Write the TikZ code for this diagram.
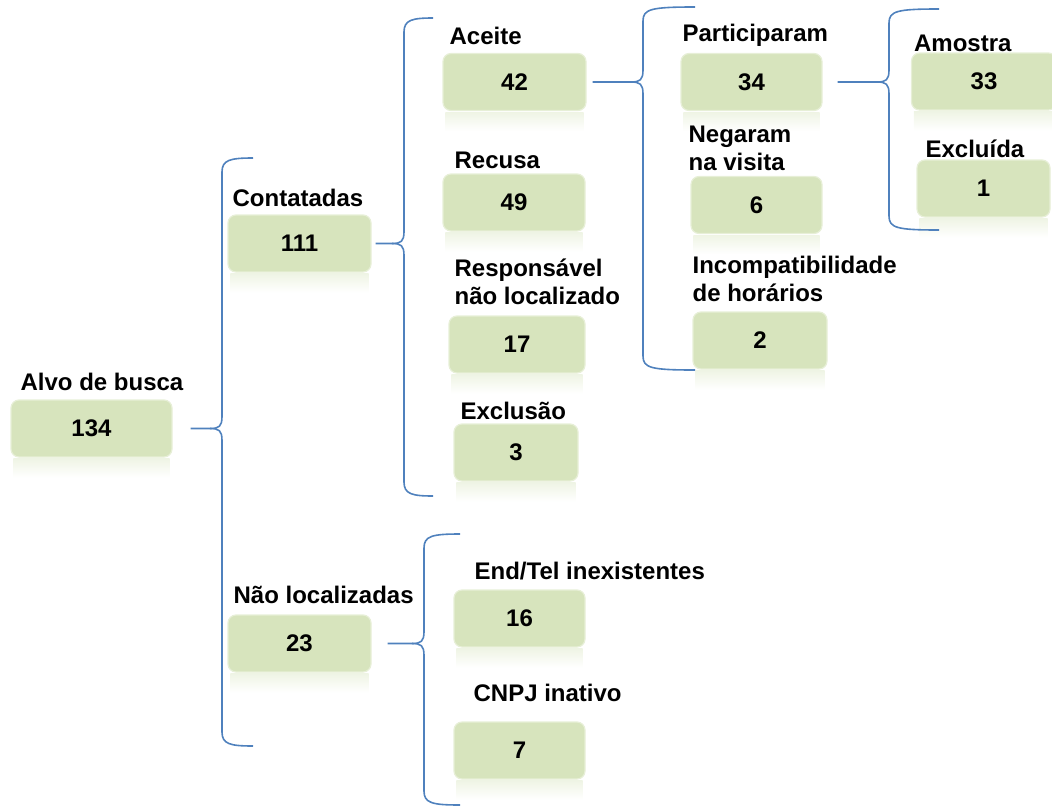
\documentclass[tikz,border=0pt]{standalone}
\usepackage{fontspec}
\setmainfont{Liberation Sans}
\usetikzlibrary{positioning,calc}
\definecolor{boxgreen}{RGB}{215,228,189}
\definecolor{braceblue}{RGB}{79,129,189}
\pgfdeclarelayer{edgelayer}
\pgfdeclarelayer{nodelayer}
\pgfsetlayers{edgelayer,nodelayer,main}
\tikzstyle{stage}=[rectangle, rounded corners=8pt, fill=boxgreen, draw=boxgreen!60!white, line width=1.2pt, minimum height=57pt, minimum width=143pt, font=\fontsize{24}{28}\selectfont\bfseries]
\tikzstyle{stagename}=[inner sep=0pt, align=left, font=\fontsize{24}{28}\selectfont\bfseries]
\tikzstyle{bracket}=[draw=braceblue, line width=1.6pt]
\tikzstyle{glow}=[top color=boxgreen!40, bottom color=white]
% #1 parent, #2 gap, #3 top end, #4 bottom end, #5 tail length
\newcommand{\curlyto}[5]{%
  \coordinate (tip) at ($(#1.east -| #3)+(-#5,0)$);
  \draw [style=bracket] ($(#1.east)+(#2,0)$) -- ($(tip)+(-12,0)$)
    .. controls ($(tip)+(-3,0)$) and ($(tip)+(0,-2)$) .. ($(tip)+(0,-12)$)
    -- ($(#3)+(-#5,14)$) .. controls ($(#3)+(-#5,2)$) and ($(#3)+({-#5+8},0)$) .. (#3);
  \draw [style=bracket] ($(tip)+(-12,0)$)
    .. controls ($(tip)+(-3,0)$) and ($(tip)+(0,2)$) .. ($(tip)+(0,12)$)
    -- ($(#4)+(-#5,-14)$) .. controls ($(#4)+(-#5,-2)$) and ($(#4)+({-#5+8},0)$) .. (#4);
}

\begin{document}
\begin{tikzpicture}[x=1pt, y=-1pt]
  \useasboundingbox (0,0) rectangle (1052,806);
  \begin{pgfonlayer}{nodelayer}
    \node [style=stage, minimum width=161pt] (alvo) at (91.5, 428.5) {134};
    \node [style=stage] (contat) at (299.5, 243.5) {111};
    \node [style=stage] (naoloc) at (299.5, 643.5) {23};
    \node [style=stage] (aceite) at (514.5, 82) {42};
    \node [style=stage, minimum width=142pt] (recusa) at (514, 202.5) {49};
    \node [style=stage, minimum width=136pt] (resp) at (517, 344.5) {17};
    \node [style=stage, minimum width=124pt] (exclusao) at (516, 452.5) {3};
    \node [style=stage, minimum width=141pt] (partic) at (751.5, 82) {34};
    \node [style=stage, minimum width=131pt] (negaram) at (756.5, 205) {6};
    \node [style=stage, minimum width=134pt] (incomp) at (760, 340.5) {2};
    \node [style=stage, minimum width=145pt] (amostra) at (984, 81.5) {33};
    \node [style=stage, minimum width=133pt] (excluida) at (983.5, 188.5) {1};
    \node [style=stage, minimum width=131pt] (endtel) at (519.5, 618.5) {16};
    \node [style=stage, minimum width=131pt] (cnpj) at (519.5, 750.5) {7};
  \end{pgfonlayer}

  \node [style=stagename, above right=8pt and 10pt of alvo.north west] (alvoL) {Alvo de busca};
  \node [style=stagename, above right=7.5pt and 5pt of contat.north west] (contatL) {Contatadas};
  \node [style=stagename, above right=10pt and 6pt of naoloc.north west] (naolocL) {Não localizadas};
  \node [style=stagename, above right=7.5pt and 7pt of aceite.north west] (aceiteL) {Aceite};
  \node [style=stagename, above right=4.5pt and 12pt of recusa.north west] (recusaL) {Recusa};
  \node [style=stagename, above right=10pt and 6pt of resp.north west] (respL) {Responsável\\não localizado};
  \node [style=stagename, above right=3.5pt and 7pt of exclusao.north west] (exclusaoL) {Exclusão};
  \node [style=stagename, above right=6pt and 2pt of partic.north west] (particL) {Participaram};
  \node [style=stagename, above right=5pt and -2pt of negaram.north west] (negaramL) {Negaram\\na visita};
  \node [style=stagename, above right=9pt and 0pt of incomp.north west] (incompL) {Incompatibilidade\\de horários};
  \node [style=stagename, above right=0pt and 3pt of amostra.north west] (amostraL) {Amostra};
  \node [style=stagename, above right=1.5pt and 9pt of excluida.north west] (excluidaL) {Excluída};
  \node [style=stagename, above right=9.5pt and 21pt of endtel.north west] (endtelL) {End/Tel inexistentes};
  \node [style=stagename, above right=19pt and 20pt of cnpj.north west] (cnpjL) {CNPJ inativo};

  \begin{pgfonlayer}{edgelayer}
    \foreach \n in {alvo,contat,naoloc,aceite,recusa,resp,exclusao,partic,negaram,incomp,amostra,excluida,endtel,cnpj}
      \shade [style=glow] ([xshift=3pt, yshift=-1pt]\n.south west) rectangle ([xshift=-3pt, yshift=-20pt]\n.south east);

    \coordinate (alvoT) at (253, 158);
    \coordinate (alvoB) at (253, 746);
    \coordinate (contatT) at (433, 18);
    \coordinate (contatB) at (433, 496);
    \coordinate (aceiteT) at (695, 7);
    \coordinate (aceiteB) at (695, 370);
    \coordinate (particT) at (939, 9);
    \coordinate (particB) at (939, 230);
    \coordinate (naolocT) at (460, 534);
    \coordinate (naolocB) at (460, 805);

    \curlyto{alvo}{18}{alvoT}{alvoB}{31}
    \curlyto{contat}{4}{contatT}{contatB}{29}
    \curlyto{aceite}{6}{aceiteT}{aceiteB}{52}
    \curlyto{partic}{15}{particT}{particB}{50}
    \curlyto{naoloc}{16}{naolocT}{naolocB}{36}
  \end{pgfonlayer}
\end{tikzpicture}
\end{document}
